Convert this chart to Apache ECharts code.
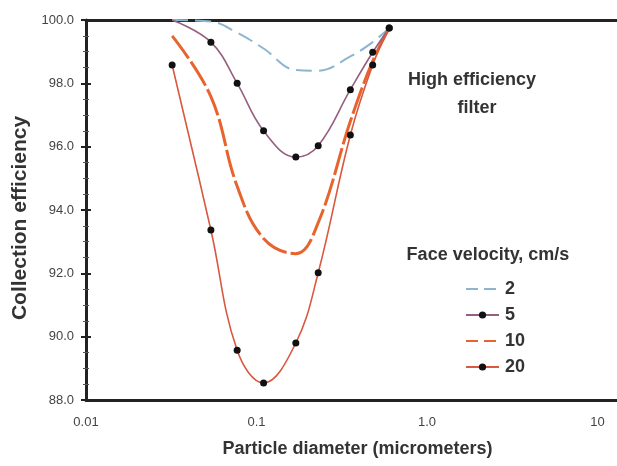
<!DOCTYPE html>
<html>
<head>
<meta charset="utf-8">
<script src="https://cdn.jsdelivr.net/npm/echarts@6/dist/echarts.min.js"></script>
<style>
html,body{margin:0;padding:0;background:#fff;}
#chart{width:617px;height:466px;}
</style>
</head>
<body>
<div id="chart"></div>
<script>
// Particle diameters (micrometers)
var diameters = [0.032, 0.054, 0.077, 0.11, 0.17, 0.23, 0.355, 0.48, 0.60];
// Collection efficiency (%) per face velocity
var eff2  = [100.0, 99.95, 99.6, 99.1, 98.42, 98.4, 98.85, 99.3, 99.75];
var eff5  = [100.0, 99.3, 98.0, 96.5, 95.67, 96.03, 97.8, 98.98, 99.75];
var eff10 = [99.5, 97.58, 94.75, 93.1, 92.62, 93.6, 96.8, 98.7, 99.75];
var eff20 = [98.58, 93.37, 89.57, 88.54, 89.8, 92.02, 96.37, 98.58, 99.75];
var seriesNames = ['2', '5', '10', '20'];
var xTickValues = [0.01, 0.1, 1, 10];
var xTickLabels = ['0.01', '0.1', '1.0', '10'];
var yMin = 88, yMax = 100, yStep = 2;

function pairs(ys) { return diameters.map(function (d, i) { return [d, ys[i]]; }); }

var FONT = "'Liberation Sans', Arial, sans-serif";
var chart = echarts.init(document.getElementById('chart'));

function xLabel(v) {
  var l = Math.log10(v);
  var r = Math.round(l);
  if (Math.abs(l - r) > 1e-6) return '';
  var idx = xTickValues.findIndex(function (t) { return Math.round(Math.log10(t)) === r; });
  return idx >= 0 ? xTickLabels[idx] : '';
}

var markerSize = function (v) { return v[1] >= 100 ? 0 : 7; };
var yAxisBase = {
  type: 'value', min: yMin, max: yMax, interval: yStep, position: 'left',
  splitLine: { show: false }
};

chart.setOption({
  animation: false,
  backgroundColor: '#fff',
  grid: { left: 86, right: 0, top: 20, bottom: 66 },
  xAxis: [{
    type: 'log', logBase: 10, min: 0.01, max: 13,
    name: 'Particle diameter (micrometers)',
    nameLocation: 'middle', nameGap: 40,
    nameTextStyle: { fontFamily: FONT, fontSize: 18, fontWeight: 'bold', color: '#333', padding: [0, 0, 0, 12] },
    axisLine: { lineStyle: { color: '#222', width: 3 } },
    axisTick: { show: false },
    splitLine: { show: false },
    minorTick: { show: false },
    axisLabel: { fontFamily: FONT, fontSize: 13, color: '#444', margin: 16, formatter: xLabel, showMaxLabel: false }
  }, {
    type: 'log', logBase: 10, min: 0.01, max: 13, position: 'top',
    axisLine: { lineStyle: { color: '#222', width: 3 } },
    axisTick: { show: false }, axisLabel: { show: false }, splitLine: { show: false }
  }],
  yAxis: [Object.assign({}, yAxisBase, {
    name: 'Collection efficiency',
    nameLocation: 'middle', nameGap: 55,
    nameTextStyle: { fontFamily: FONT, fontSize: 21, fontWeight: 'bold', color: '#333', padding: [0, 16, 0, 0] },
    axisLine: { show: true, lineStyle: { color: '#222', width: 3 } },
    axisTick: { show: true, length: 5, lineStyle: { color: '#222', width: 2 } },
    minorTick: { show: true, splitNumber: 4, length: 3, lineStyle: { color: '#555' } },
    axisLabel: { fontFamily: FONT, fontSize: 13, color: '#444', margin: 12, formatter: function (v) { return v.toFixed(1); } }
  }), Object.assign({}, yAxisBase, {
    axisLine: { show: false },
    axisTick: { show: true, inside: true, length: 5, lineStyle: { color: '#222', width: 2 } },
    minorTick: { show: true, splitNumber: 4, length: 3, lineStyle: { color: '#555' } },
    axisLabel: { show: false }
  })],
  legend: {
    orient: 'vertical', left: 460, top: 275,
    itemWidth: 33, itemHeight: 9, itemGap: 8,
    textStyle: { fontFamily: FONT, fontSize: 18, fontWeight: 'bold', color: '#333', padding: [0, 0, 0, 1] },
    data: [
      { name: seriesNames[0], itemStyle: { opacity: 0 }, lineStyle: { type: [12, 6] } },
      { name: seriesNames[1] },
      { name: seriesNames[2], itemStyle: { opacity: 0 }, lineStyle: { type: [12, 6] } },
      { name: seriesNames[3] }
    ]
  },
  graphic: [
    { type: 'text', x: 472, y: 80, style: { text: 'High efficiency', font: 'bold 18px ' + FONT, fill: '#333', align: 'center', verticalAlign: 'middle' } },
    { type: 'text', x: 477, y: 108, style: { text: 'filter', font: 'bold 18px ' + FONT, fill: '#333', align: 'center', verticalAlign: 'middle' } },
    { type: 'text', x: 488, y: 255, style: { text: 'Face velocity, cm/s', font: 'bold 18px ' + FONT, fill: '#333', align: 'center', verticalAlign: 'middle' } }
  ],
  series: [
    { name: seriesNames[0], type: 'line', data: pairs(eff2), smooth: 0.4, symbol: 'none',
      lineStyle: { color: '#8db5cf', width: 2, type: [16, 7] }, itemStyle: { color: '#8db5cf' }, z: 2 },
    { name: seriesNames[1], type: 'line', data: pairs(eff5), smooth: 0.4, symbol: 'circle', symbolSize: markerSize,
      lineStyle: { color: '#94607f', width: 1.6 }, itemStyle: { color: '#111', borderWidth: 0 }, z: 4 },
    { name: seriesNames[2], type: 'line', data: pairs(eff10), smooth: 0.4, symbol: 'none',
      lineStyle: { color: '#e8642e', width: 3, type: [28, 4] }, itemStyle: { color: '#e8642e' }, z: 3 },
    { name: seriesNames[3], type: 'line', data: pairs(eff20), smooth: 0.4, symbol: 'circle', symbolSize: markerSize,
      lineStyle: { color: '#d9583f', width: 1.6 }, itemStyle: { color: '#111', borderWidth: 0 }, z: 5 }
  ]
});
</script>
</body>
</html>
